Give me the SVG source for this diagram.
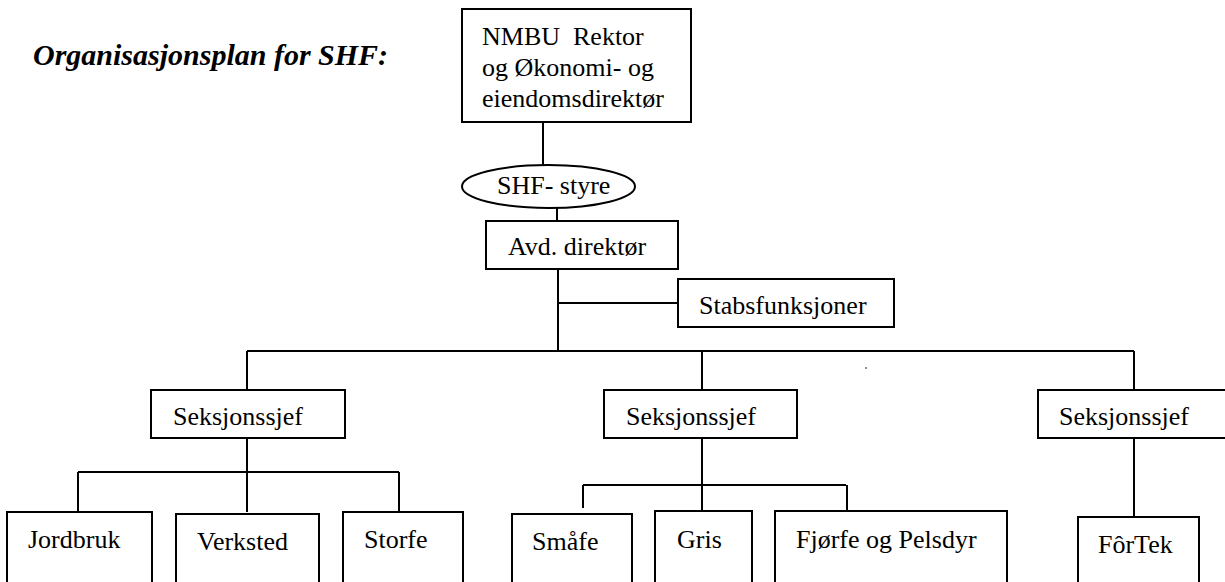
<svg xmlns="http://www.w3.org/2000/svg" width="1225" height="582" viewBox="0 0 1225 582">
<style>
.b{fill:#fff;stroke:#000;stroke-width:2}
.t{font-size:26px;fill:#000}
.h{font-size:30px;font-weight:bold;font-style:italic;fill:#000}
.c{stroke:#000;stroke-width:2;fill:none}
</style>
<rect width="1225" height="582" fill="#fff"/>
<g font-family="Liberation Serif, Times New Roman, serif">
<text class="h" x="33" y="65">Organisasjonsplan for SHF:</text>
<g id="connectors" class="c">
<path d="M543 122V165"/>
<path d="M557 208V221"/>
<path d="M558 269V351"/>
<path d="M558 303H678"/>
<path d="M247 351H1134"/>
<path d="M247 351V390M702 351V390M1134 351V390"/>
<path d="M247 438V512M78 472H399M78 472V512M399 472V512"/>
<path d="M702 438V511M583 485H846M583 485V508M847 485V511"/>
<path d="M1134 438V517"/>
</g>
<circle cx="866" cy="368" r="0.8" fill="#000"/>
<g id="top"><rect class="b" x="462" y="9" width="229" height="113"/>
<text class="t" x="482" y="45">NMBU&#160; Rektor</text><text class="t" x="482" y="76">og Økonomi- og</text><text class="t" x="482" y="107">eiendomsdirektør</text></g>
<g id="styre"><ellipse class="b" cx="548.5" cy="186.5" rx="86.5" ry="21.5"/><text class="t" x="497" y="194">SHF- styre</text></g>
<g id="avd"><rect class="b" x="486" y="221" width="192" height="48"/><text class="t" x="508" y="255">Avd. direktør</text></g>
<g id="stab"><rect class="b" x="678" y="279" width="216" height="48"/><text class="t" x="699" y="314">Stabsfunksjoner</text></g>
<g id="sek1"><rect class="b" x="151" y="390" width="194" height="48"/><text class="t" x="173" y="425">Seksjonssjef</text></g>
<g id="sek2"><rect class="b" x="604" y="390" width="193" height="48"/><text class="t" x="626" y="425">Seksjonssjef</text></g>
<g id="sek3"><rect class="b" x="1038" y="390" width="194" height="48"/><text class="t" x="1059" y="425">Seksjonssjef</text></g>
<g id="jordbruk"><rect class="b" x="7" y="512" width="145" height="90"/><text class="t" x="28" y="548">Jordbruk</text></g>
<g id="verksted"><rect class="b" x="176" y="514" width="143" height="90"/><text class="t" x="197" y="550">Verksted</text></g>
<g id="storfe"><rect class="b" x="343" y="512" width="120" height="90"/><text class="t" x="364" y="548">Storfe</text></g>
<g id="smafe"><rect class="b" x="512" y="514" width="120" height="90"/><text class="t" x="532" y="550">Småfe</text></g>
<g id="gris"><rect class="b" x="655" y="511" width="97" height="90"/><text class="t" x="677" y="548">Gris</text></g>
<g id="fjorfe"><rect class="b" x="775" y="511" width="232" height="90"/><text class="t" x="796" y="548">Fjørfe og Pelsdyr</text></g>
<g id="fortek"><rect class="b" x="1078" y="517" width="121" height="90"/><text class="t" x="1098" y="553">FôrTek</text></g>
</g>
</svg>
